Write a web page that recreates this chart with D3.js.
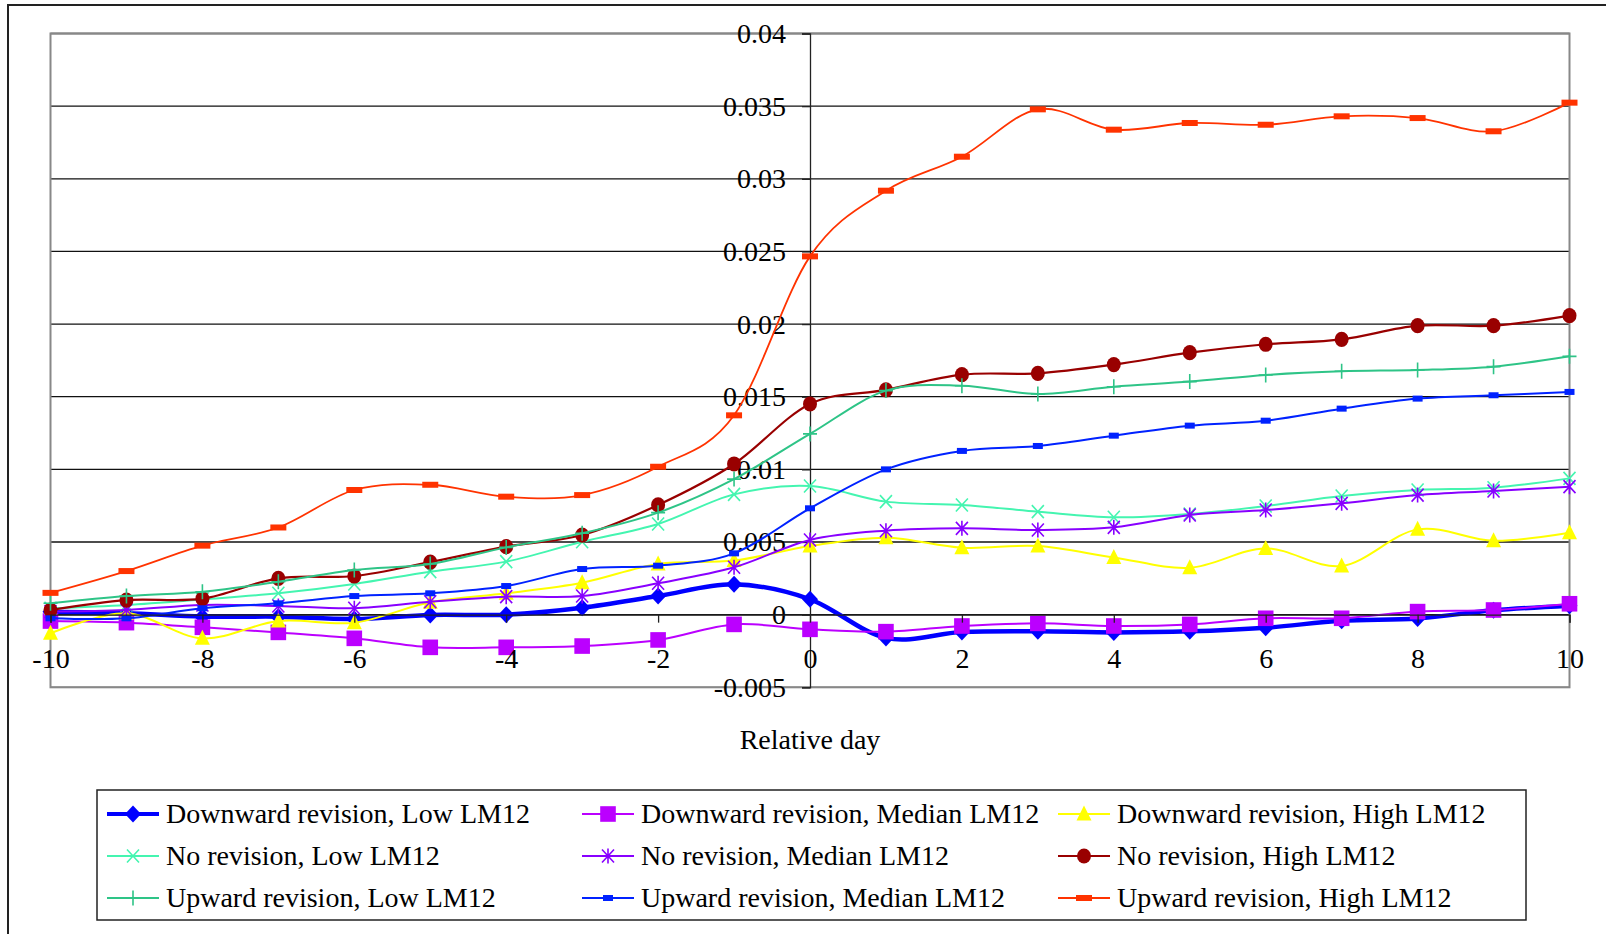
<!DOCTYPE html>
<html>
<head>
<meta charset="utf-8">
<script src="https://cdn.jsdelivr.net/npm/d3@7/dist/d3.min.js"></script>
<style>
  html, body { margin: 0; padding: 0; background: #fff; }
  svg { display: block; }
  text { font-family: "Liberation Serif", "Times New Roman", serif; fill: #000; }
</style>
</head>
<body>
<svg id="chart" width="1606" height="934"></svg>
<script>
// ---------- data ----------
const days = [-10,-9,-8,-7,-6,-5,-4,-3,-2,-1,0,1,2,3,4,5,6,7,8,9,10];
const xTickLabels = [-10,-8,-6,-4,-2,0,2,4,6,8,10];
const yTickLabels = [-0.005,0,0.005,0.01,0.015,0.02,0.025,0.03,0.035,0.04];

const downLow    = [0.0002,0.0001,-0.00014,-0.00014,-0.0003,-0.00002,0.0000,0.00048,0.00128,0.00209,0.00106,-0.0016,-0.0012,-0.00115,-0.00122,-0.00115,-0.0009,-0.00042,-0.00026,0.0003,0.00062];
const downMedian = [-0.00044,-0.00055,-0.00087,-0.00122,-0.00163,-0.00225,-0.00225,-0.00216,-0.00174,-0.00067,-0.00101,-0.00117,-0.00078,-0.0006,-0.00078,-0.00067,-0.00025,-0.00025,0.00021,0.00032,0.00075];
const downHigh   = [-0.00128,0.00009,-0.00163,-0.00044,-0.00055,0.00085,0.00147,0.0022,0.00349,0.00372,0.00472,0.0053,0.00461,0.00472,0.00394,0.00323,0.00456,0.00335,0.00587,0.00509,0.00564];
const noLow      = [0.00044,0.00067,0.00105,0.00147,0.00211,0.00296,0.00365,0.00502,0.00624,0.00828,0.00885,0.00778,0.00755,0.00709,0.0067,0.00693,0.00748,0.00817,0.00858,0.00874,0.00938];
const noMedian   = [0.00021,0.00032,0.00067,0.0006,0.00044,0.00089,0.00124,0.00128,0.00216,0.00326,0.00514,0.00578,0.00594,0.00583,0.00601,0.00686,0.0072,0.00766,0.00823,0.00851,0.00881];
const noHigh     = [0.00032,0.001,0.0011,0.0025,0.00266,0.00362,0.00468,0.00548,0.00755,0.01037,0.0145,0.01547,0.01652,0.01661,0.01721,0.01803,0.01861,0.01895,0.01989,0.01989,0.02058];
const upLow      = [0.00078,0.00128,0.00158,0.00227,0.00307,0.00349,0.00463,0.0056,0.00702,0.00933,0.01244,0.01542,0.01576,0.01519,0.01569,0.01604,0.0165,0.01675,0.01684,0.01707,0.01778];
const upMedian   = [-0.00025,-0.00025,0.00044,0.00078,0.00128,0.00147,0.00197,0.00314,0.00337,0.00422,0.00732,0.01,0.01127,0.01161,0.01232,0.01301,0.01335,0.01418,0.01487,0.0151,0.01533];
const upHigh     = [0.0015,0.003,0.00475,0.006,0.00858,0.00894,0.00812,0.00823,0.01018,0.01372,0.02466,0.02918,0.03152,0.03478,0.03338,0.03384,0.03372,0.0343,0.03418,0.03327,0.03524];

const seriesNames = [
  "Downward revision, Low LM12","Downward revision, Median LM12","Downward revision, High LM12",
  "No revision, Low LM12","No revision, Median LM12","No revision, High LM12",
  "Upward revision, Low LM12","Upward revision, Median LM12","Upward revision, High LM12"
];
const seriesValues = [downLow, downMedian, downHigh, noLow, noMedian, noHigh, upLow, upMedian, upHigh];
const seriesColors = ["#0000ff","#bb00ff","#ffff00","#44f5b0","#8800ff","#990000","#2ec487","#0022ff","#ff3300"];
const seriesMarkers = ["diamond","square","triangle","x","asterisk","circle","plus","smallrect","dash"];
const seriesWidths = [4.5,2,2,2,2,2.2,2,2,1.8];

// ---------- layout ----------
const svg = d3.select("#chart");
const L = 50.5, R = 1569.5, T = 33.5, B = 687.3;
const x = d3.scaleLinear().domain([-10,10]).range([L,R]);
const y = d3.scaleLinear().domain([-0.005,0.04]).range([B,T]);

// outer frame
svg.append("rect").attr("x",8).attr("y",5).attr("width",1620).attr("height",960)
  .attr("fill","none").attr("stroke","#222").attr("stroke-width",2);

// gridlines
svg.append("g").selectAll("line").data(yTickLabels).join("line")
  .attr("x1",L).attr("x2",R).attr("y1",d=>y(d)).attr("y2",d=>y(d))
  .attr("stroke","#111").attr("stroke-width",1.3);

// plot border
svg.append("rect").attr("x",L).attr("y",T).attr("width",R-L).attr("height",B-T)
  .attr("fill","none").attr("stroke","#888").attr("stroke-width",2);

// y axis at x=0
const yAxis = d3.axisLeft(y).tickValues(yTickLabels).tickSize(8).tickPadding(16)
  .tickFormat(d => String(+d.toFixed(3)));
const gy = svg.append("g").attr("transform",`translate(${x(0)},0)`).call(yAxis);
gy.select(".domain").attr("stroke","#222").attr("stroke-width",1.3);
gy.selectAll(".tick line").attr("stroke","#222").attr("stroke-width",1.3);
gy.selectAll(".tick text").attr("font-size",28).attr("font-family","Liberation Serif").attr("fill","#000");

// x axis at y=0
const xAxis = d3.axisBottom(x).tickValues(xTickLabels).tickSize(8).tickPadding(25).tickFormat(d => String(d));
const gx = svg.append("g").attr("transform",`translate(0,${y(0)})`).call(xAxis);
gx.select(".domain").attr("stroke","#222").attr("stroke-width",1.3);
gx.selectAll(".tick line").attr("stroke","#222").attr("stroke-width",1.3);
gx.selectAll(".tick text").attr("font-size",28).attr("font-family","Liberation Serif").attr("fill","#000");

// axis title
svg.append("text").attr("x",x(0)).attr("y",749).attr("text-anchor","middle")
  .attr("font-size",28).text("Relative day");

// ---------- markers ----------
function drawMarker(g, type, color, cx, cy) {
  switch(type) {
    case "diamond":
      g.append("path").attr("d",`M${cx},${cy-8.5}L${cx+8},${cy}L${cx},${cy+8.5}L${cx-8},${cy}Z`).attr("fill",color); break;
    case "square":
      g.append("rect").attr("x",cx-7.8).attr("y",cy-7.8).attr("width",15.6).attr("height",15.6).attr("fill",color); break;
    case "triangle":
      g.append("path").attr("d",`M${cx},${cy-8.5}L${cx+7.5},${cy+6.5}L${cx-7.5},${cy+6.5}Z`).attr("fill",color); break;
    case "x":
      g.append("path").attr("d",`M${cx-6},${cy-6.5}L${cx+6},${cy+6.5}M${cx+6},${cy-6.5}L${cx-6},${cy+6.5}`)
        .attr("stroke",color).attr("stroke-width",1.6).attr("fill","none"); break;
    case "asterisk":
      g.append("path").attr("d",`M${cx-6},${cy-6.5}L${cx+6},${cy+6.5}M${cx+6},${cy-6.5}L${cx-6},${cy+6.5}M${cx},${cy-7.5}L${cx},${cy+7.5}`)
        .attr("stroke",color).attr("stroke-width",1.6).attr("fill","none"); break;
    case "circle":
      g.append("ellipse").attr("cx",cx).attr("cy",cy).attr("rx",7).attr("ry",7.6).attr("fill",color); break;
    case "plus":
      g.append("path").attr("d",`M${cx-7},${cy}L${cx+7},${cy}M${cx},${cy-7.5}L${cx},${cy+7.5}`)
        .attr("stroke",color).attr("stroke-width",1.6).attr("fill","none"); break;
    case "smallrect":
      g.append("rect").attr("x",cx-5).attr("y",cy-3).attr("width",10).attr("height",6).attr("fill",color); break;
    case "dash":
      g.append("rect").attr("x",cx-8).attr("y",cy-3).attr("width",16).attr("height",6).attr("fill",color); break;
  }
}

// ---------- series ----------
const line = d3.line().x((d,i)=>x(days[i])).y(d=>y(d)).curve(d3.curveCatmullRom.alpha(0));
seriesValues.forEach((vals, si) => {
  const g = svg.append("g");
  g.append("path").attr("d", line(vals)).attr("fill","none")
    .attr("stroke", seriesColors[si]).attr("stroke-width", seriesWidths[si]).attr("stroke-linejoin","round");
  vals.forEach((v,i) => drawMarker(g, seriesMarkers[si], seriesColors[si], x(days[i]), y(v)));
});

// bring axis labels above series
gx.raise();

// ---------- legend ----------
svg.append("rect").attr("x",97).attr("y",790).attr("width",1429).attr("height",130)
  .attr("fill","#fff").attr("stroke","#222").attr("stroke-width",1.5);
const colX = [107, 582, 1058];
const rowY = [814, 856, 898];
seriesNames.forEach((name, si) => {
  const cx = colX[si % 3], cy = rowY[Math.floor(si/3)];
  const g = svg.append("g");
  g.append("line").attr("x1",cx).attr("x2",cx+52).attr("y1",cy).attr("y2",cy)
    .attr("stroke",seriesColors[si]).attr("stroke-width",Math.min(seriesWidths[si],4));
  drawMarker(g, seriesMarkers[si], seriesColors[si], cx+26, cy);
  g.append("text").attr("x",cx+59).attr("y",cy).attr("dy","0.33em").attr("font-size",28).text(name);
});
</script>
</body>
</html>
